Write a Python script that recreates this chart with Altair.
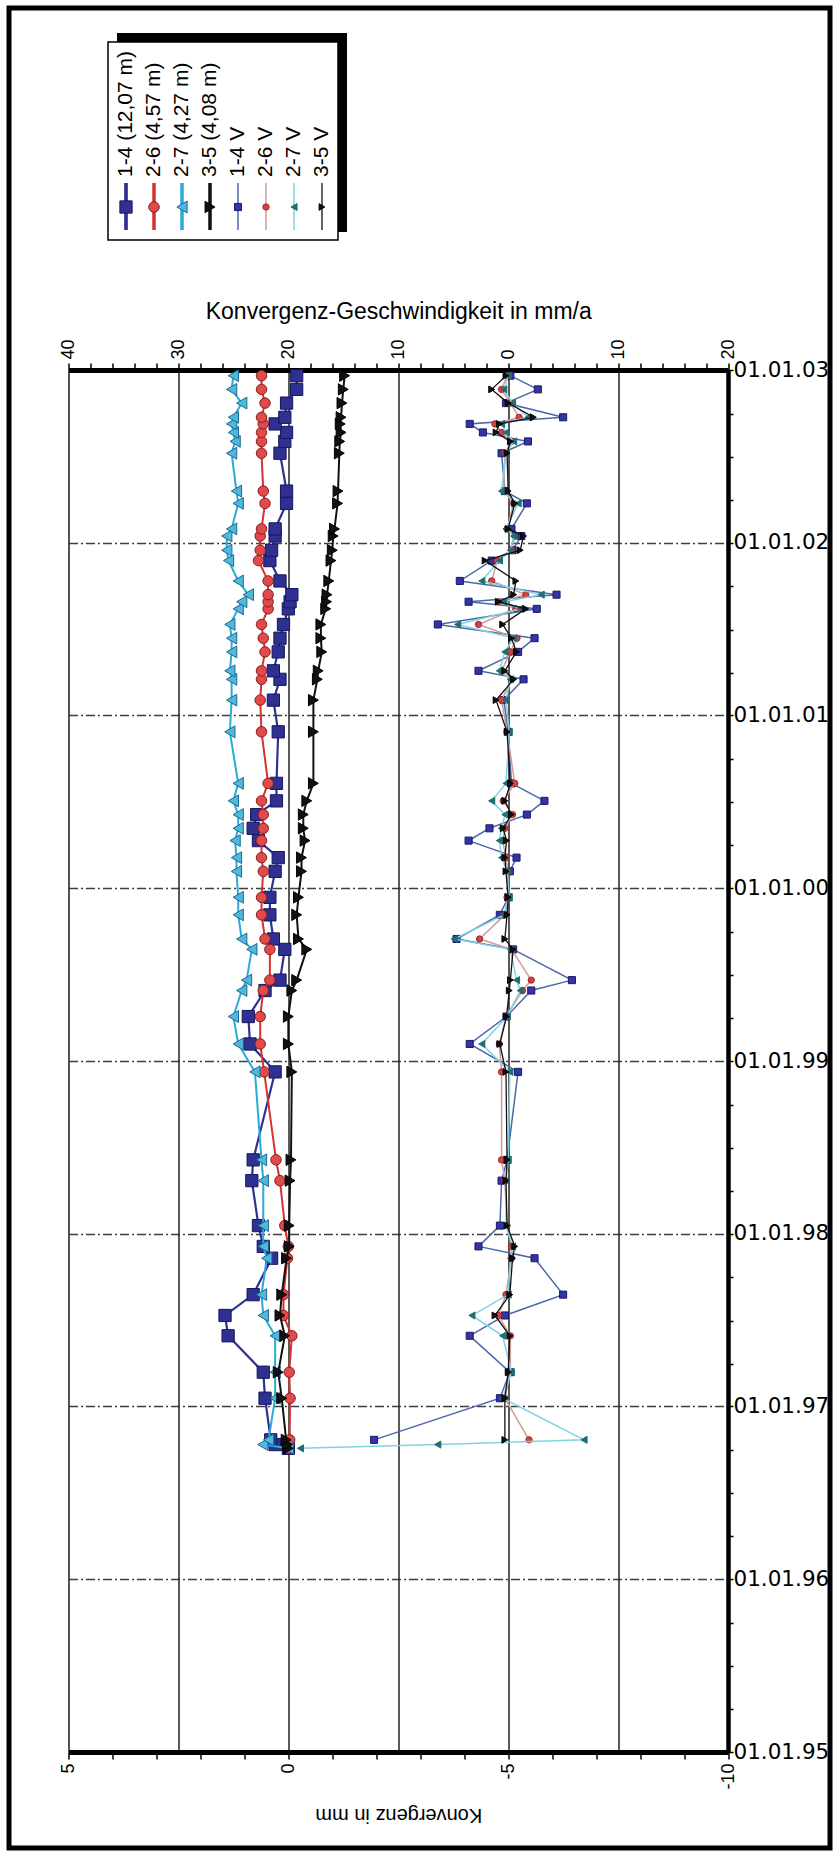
import altair as alt
import pandas as pd

# ---------------- data ----------------
dates = ["2002-12-20", "2002-11-21", "2002-10-23", "2002-09-23", "2002-09-09", "2002-08-22",
         "2002-08-03", "2002-07-09", "2002-04-20", "2002-03-25", "2002-01-30", "2002-01-15",
         "2001-12-16", "2001-11-24", "2001-10-12", "2001-09-13", "2001-08-29", "2001-08-14",
         "2001-07-12", "2001-06-13", "2001-05-15", "2001-04-05", "2001-03-18", "2001-02-02",
         "2000-11-27", "2000-08-10", "2000-07-04", "2000-06-05", "2000-05-07", "2000-04-11",
         "2000-03-06", "2000-02-06", "1999-12-13", "1999-11-06", "1999-09-16", "1999-08-25",
         "1999-06-21", "1999-05-30", "1999-04-05", "1999-02-06", "1998-12-09", "1998-06-06",
         "1998-04-23", "1998-01-18", "1997-12-05", "1997-11-10", "1997-08-25", "1997-07-12",
         "1997-05-30", "1997-03-14", "1997-01-18", "1996-10-22", "1996-10-12", "1996-10-04"]

conv_names = ["1-4 (12,07 m)", "2-6 (4,57 m)", "2-7 (4,27 m)", "3-5 (4,08 m)"]
vel_names = ["1-4 V", "2-6 V", "2-7 V", "3-5 V"]

# Konvergenz in mm
conv_14 = [-0.19, -0.19, 0.04, 0.08, 0.30, 0.04, 0.08, 0.19, 0.04, 0.04, 0.30, 0.30,
           0.38, 0.42, 0.19, -0.08, -0.04, 0.00, 0.11, 0.19, 0.23, 0.34, 0.19, 0.34,
           0.23, 0.27, 0.27, 0.72, 0.80, 0.68, 0.23, 0.30, 0.42, 0.42, 0.34, 0.08,
           0.19, 0.53, 0.91, 0.87, 0.30, 0.80, 0.83, 0.68, 0.57, 0.38, 0.80, 1.44,
           1.37, 0.57, 0.53, 0.40, 0.30, 0.00]
conv_26 = [0.61, 0.61, 0.53, 0.61, 0.57, 0.61, 0.61, 0.61, 0.57, 0.53, 0.61, 0.64,
           0.64, 0.68, 0.46, 0.46, 0.46, 0.46, 0.61, 0.57, 0.53, 0.61, 0.61, 0.64,
           0.61, 0.46, 0.61, 0.57, 0.57, 0.61, 0.61, 0.57, 0.61, 0.61, 0.53, 0.42,
           0.42, 0.57, 0.64, 0.64, 0.55, 0.28, 0.19, 0.08, 0.00, 0.02, 0.11, 0.11,
           -0.08, -0.02, -0.04, -0.03, 0.00, 0.00]
conv_27 = [1.25, 1.29, 1.06, 1.25, 1.29, 1.25, 1.21, 1.29, 1.18, 1.14, 1.29, 1.40,
           1.40, 1.36, 1.14, 0.91, 1.06, 1.14, 1.33, 1.29, 1.29, 1.33, 1.29, 1.29,
           1.33, 1.14, 1.25, 1.14, 1.14, 1.21, 1.18, 1.18, 1.14, 1.14, 1.06, 0.83,
           0.95, 1.06, 1.25, 1.14, 0.76, 0.61, 0.57, 0.57, 0.57, 0.49, 0.61, 0.57,
           0.30, 0.30, 0.30, 0.45, 0.58, 0.00]
conv_35 = [-1.28, -1.25, -1.22, -1.20, -1.18, -1.20, -1.17, -1.16, -1.13, -1.12, -1.05, -1.02,
           -1.00, -0.97, -0.92, -0.88, -0.87, -0.85, -0.74, -0.74, -0.76, -0.68, -0.66, -0.57,
           -0.57, -0.57, -0.42, -0.34, -0.34, -0.38, -0.30, -0.30, -0.23, -0.19, -0.23, -0.42,
           -0.19, -0.08, 0.00, 0.00, -0.08, -0.06, -0.04, -0.02, -0.02, 0.04, 0.15, 0.19,
           0.08, 0.23, 0.15, 0.05, 0.02, 0.00]

# Konvergenz-Geschwindigkeit in mm/a
vel_14 = [-0.2, -2.7, 0.2, -5.0, 3.5, 2.3, -1.8, 0.6, 0.3, -1.7,
          -0.3, -1.2, -0.4, 1.5, 4.4, -4.4, 3.6, -2.6, 6.4, -2.4,
          -0.9, 2.7, -1.4, 0.4, 0.0, -0.3, -3.3, -1.7, 1.7, 3.6,
          -0.76, -0.15, 0.0, 0.76, 4.7, -0.45, -5.8, -2.1, 0.15, 3.5,
          -0.9, 0.1, 0.6, 0.75, 2.7, -2.4, -5.0, 0.3, 3.5, -0.15,
          0.75, 12.2, None, None]
vel_26 = [0.1, 0.6, -0.2, -1.0, 1.2, 0.6, -0.3, 0.3, 0.4, -0.5,
          0.1, -0.6, -0.3, 1.0, 1.5, -1.6, 0.9, -0.7, 2.7, -0.8,
          -0.2, 0.6, -0.3, 0.6, 0.1, -0.6, 0.45, -0.4, 0.3, 0.5,
          0.2, 0.0, 0.1, 0.3, 2.6, -0.3, -2.1, -1.3, 0.2, 0.8,
          0.6, 0.6, 0.3, 0.1, -0.3, -0.3, 0.2, 0.9, -0.2, -0.2,
          0.3, -1.9, None, None]
vel_27 = [0.0, 0.4, -0.4, -1.8, 0.6, 0.2, -0.5, 0.2, 0.6, -0.9,
          0.2, -0.5, -0.2, 0.8, 2.4, -3.0, 0.4, -1.1, 4.6, -0.5,
          0.3, 0.8, -0.2, 0.2, -0.1, 0.2, 1.5, 0.3, 0.6, 0.8,
          0.6, 0.1, -0.1, 0.4, 4.9, -0.2, -0.76, -1.1, 0.1, 2.4,
          -0.15, 0.0, 0.2, 0.2, -0.4, -0.2, 0.0, 3.3, 0.5, -0.3,
          0.5, -6.9, 6.4, 18.9]
vel_35 = [0.2, 1.5, 0.0, -2.3, 0.8, 1.1, -0.2, 0.1, 0.0, -0.6,
          0.0, -1.4, -1.1, 2.1, -0.7, -0.5, 0.9, -1.6, 0.5, -0.3,
          -0.75, 0.3, -0.5, 1.1, 0.1, -0.2, 0.3, -0.3, 0.45, 0.15,
          0.3, 0.2, 0.0, 0.1, 0.3, -0.45, -0.2, -0.1, 0.15, 0.76,
          0.2, 0.1, 0.2, 0.1, -0.6, -0.4, -0.15, 1.2, -0.15, 0.0,
          0.3, 0.3, None, None]

# ticks
mm_ticks = list(range(-10, 6))
mma_ticks = list(range(-20, 41, 2))
tick_years = list(range(1995, 2003))
tick_months = [1, 4, 7, 10]


def series_df(values):
    rows = [{"date": d, "v": v} for d, v in zip(dates, values) if v is not None]
    return pd.DataFrame(rows)


FONT = "Liberation Sans"

y_values = [alt.DateTime(year=y, month=m, date=1) for y in tick_years for m in tick_months]
y_values.append(alt.DateTime(year=2003, month=1, date=1))

y_scale = alt.Scale(domain=[alt.DateTime(year=1995, month=1, date=1),
                            alt.DateTime(year=2003, month=1, date=1)], nice=False)
y_axis = alt.Axis(
    orient="right", values=y_values,
    labelExpr="month(datum.value) == 0 ? timeFormat(datum.value, '%d.%m.%y') : ''",
    labelFontSize=21.5, labelColor="black", labelPadding=0, labelFont="DejaVu Sans",
    tickSize=5, tickColor="black", tickWidth=1.5,
    domainColor="black", domainWidth=4.5,
    grid=True, gridColor="#2a2a2a", gridWidth=1.5, gridDash=[9, 3, 2, 3],
    gridOpacity={"condition": {"test": "month(datum.value) == 0", "value": 0.9}, "value": 0},
    title=None,
)

x_bot_scale = alt.Scale(domain=[-10, 5], reverse=True, nice=False, zero=False)
x_bot_axis = alt.Axis(
    orient="bottom", values=mm_ticks,
    labelExpr="datum.value % 5 == 0 ? '' + datum.value : ''",
    labelAngle=270, labelFontSize=18, labelColor="black", labelPadding=4, labelFont=FONT,
    tickSize=7, tickWidth=1.5, tickColor="black",
    domainWidth=5, domainColor="black", grid=False,
    title="Konvergenz in mm", titleAngle=180, titleFontSize=20, titleFontWeight="normal",
    titleColor="black", titleFont=FONT, titlePadding=35,
)

x_top_scale = alt.Scale(domain=[-20, 40], reverse=True, nice=False, zero=False)
x_top_axis = alt.Axis(
    orient="top", values=mma_ticks,
    labelExpr="datum.value % 10 == 0 ? '' + abs(datum.value) : ''",
    labelAngle=270, labelFontSize=18, labelColor="black", labelPadding=4, labelFont=FONT,
    tickSize=7, tickWidth=1.5, tickColor="black",
    domainWidth=5, domainColor="black",
    grid=True, gridColor="black", gridWidth=1.3,
    gridOpacity={"condition": {"test": "datum.value % 10 == 0", "value": 1}, "value": 0},
    title="Konvergenz-Geschwindigkeit in mm/a", titleFontSize=23, titleFontWeight="normal",
    titleColor="black", titleFont=FONT, titlePadding=15,
)

conv_style = [
    (conv_14, dict(shape="square", fill="#2E3192", stroke="#16165C", size=150),
     dict(color="#2E3192", strokeWidth=2.2)),
    (conv_26, dict(shape="circle", fill="#E04A4A", stroke="#8E1B1B", size=110),
     dict(color="#D83030", strokeWidth=2)),
    (conv_27, dict(shape="triangle-left", fill="#4FB8DC", stroke="#1B6A8E", size=140),
     dict(color="#2AAAD8", strokeWidth=2)),
    (conv_35, dict(shape="triangle-right", fill="#111111", stroke="#000000", size=130),
     dict(color="#111111", strokeWidth=2)),
]
vel_style = [
    (vel_14, dict(shape="square", fill="#3434A8", stroke="#1A1A66", size=50),
     dict(color="#4A68A8", strokeWidth=1.5)),
    (vel_26, dict(shape="circle", fill="#D84040", stroke="#A02828", size=40),
     dict(color="#D29A9A", strokeWidth=1.5)),
    (vel_27, dict(shape="triangle-left", fill="#1F6F72", stroke="#1F6F72", size=50),
     dict(color="#7FD3E3", strokeWidth=1.5)),
    (vel_35, dict(shape="triangle-right", fill="#111111", stroke="#000000", size=45),
     dict(color="#111111", strokeWidth=1.3)),
]


def group(styles, scale, axis):
    layers = []
    for values, pt, ln in styles:
        df = series_df(values)
        enc = dict(
            x=alt.X("v:Q", scale=scale, axis=axis),
            y=alt.Y("date:T", scale=y_scale, axis=y_axis),
            order=alt.Order("date:T"),
        )
        layers.append(alt.Chart(df).mark_line(**ln).encode(**enc))
        layers.append(alt.Chart(df).mark_point(filled=True, opacity=1, strokeWidth=1, **pt).encode(**enc))
    return alt.layer(*layers)


conv_group = group(conv_style, x_bot_scale, x_bot_axis)
vel_group = group(vel_style, x_top_scale, x_top_axis)

one = pd.DataFrame({"k": [0]})

# outer frame
frame = alt.Chart(one).mark_rect(filled=False, stroke="black", strokeWidth=5).encode(
    x=alt.value(-59.5), x2=alt.value(761.5), y=alt.value(-362), y2=alt.value(1478))

# legend box with shadow
leg_shadow = alt.Chart(one).mark_rect(fill="black").encode(
    x=alt.value(48.5), x2=alt.value(278.5), y=alt.value(-337), y2=alt.value(-138))
leg_box = alt.Chart(one).mark_rect(fill="white", stroke="black", strokeWidth=1.5).encode(
    x=alt.value(39.5), x2=alt.value(269.5), y=alt.value(-328), y2=alt.value(-130))

legend_layers = [leg_shadow, leg_box]
all_names = conv_names + vel_names
all_styles = conv_style + vel_style
for i, (name, (vals, pt, ln)) in enumerate(zip(all_names, all_styles)):
    xpos = 57.5 + 28 * i
    d = pd.DataFrame({"label": [name]})
    lw = ln["strokeWidth"] + (1.5 if i < 4 else 0)
    legend_layers.append(alt.Chart(d).mark_rule(color=ln["color"], strokeWidth=lw).encode(
        x=alt.value(xpos), y=alt.value(-187), y2=alt.value(-140)))
    legend_layers.append(alt.Chart(d).mark_point(filled=True, opacity=1, strokeWidth=1, **pt).encode(
        x=alt.value(xpos), y=alt.value(-163)))
    legend_layers.append(alt.Chart(d).mark_text(angle=270, align="left", baseline="middle",
                                                fontSize=21, font=FONT, color="black").encode(
        x=alt.value(xpos), y=alt.value(-193), text="label:N"))

chart = alt.layer(frame, *legend_layers, vel_group, conv_group).resolve_scale(
    x="independent"
).properties(
    width=659.5, height=1382,
    autosize=alt.AutoSizeParams(type="none"),
    padding={"left": 68.5, "top": 370, "right": 105, "bottom": 99},
    background="white",
).configure_view(stroke=None).configure(font=FONT)

chart.save("out.html", embed_options={"renderer": "svg", "actions": False})
